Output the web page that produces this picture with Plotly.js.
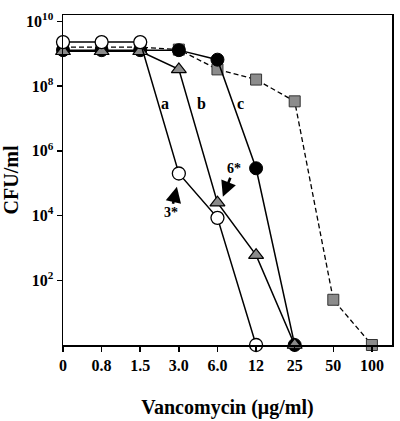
<!DOCTYPE html>
<html><head><meta charset="utf-8">
<script src="https://cdn.plot.ly/plotly-3.0.1.min.js"></script>
<style>html,body{margin:0;padding:0;background:#fff}#g{width:400px;height:421px}</style>
</head><body><div id="g"></div>
<script>
const categories = ["0","0.8","1.5","3.0","6.0","12","25","50","100"];
const seriesA = [2.3e9, 2.3e9, 2.3e9, 2.0e5, 8.5e3, 1];           // open circles
const seriesB = [1.2e9, 1.2e9, 1.2e9, 3.3e8, 2.5e4, 6.0e2, 1];     // grey triangles
const seriesC = [1.3e9, 1.3e9, 1.3e9, 1.3e9, 6.6e8, 2.9e5, 1];     // filled circles
const seriesD = [1.6e9, 1.6e9, 1.6e9, 1.35e9, 3.3e8, 1.6e8, 3.4e7, 25, 1]; // grey squares, dashed
const yTickVals = [1e2, 1e4, 1e6, 1e8, 1e10];
const yTickText = ["10<sup>2</sup>","10<sup>4</sup>","10<sup>6</sup>","10<sup>8</sup>","10<sup>10</sup>"];

const F = "Liberation Serif, Times New Roman, serif";
const traces = [
  {x: categories.slice(0, seriesD.length), y: seriesD, mode: "lines+markers", cliponaxis: false,
   line: {color: "#000", width: 1.3, dash: "5px,3px"},
   marker: {symbol: "square", size: 11, color: "#8c8c8c", line: {color: "#333", width: 1}}},
  {x: categories.slice(0, seriesC.length), y: seriesC, mode: "lines+markers", cliponaxis: false,
   line: {color: "#000", width: 1.5},
   marker: {symbol: "circle", size: 13, color: "#000", line: {color: "#000", width: 1}}},
  {x: categories.slice(0, seriesB.length), y: seriesB, mode: "lines+markers", cliponaxis: false,
   line: {color: "#000", width: 1.5},
   marker: {symbol: "triangle-up", size: 13, color: "#8a8a8a", line: {color: "#000", width: 1.2}}},
  {x: categories.slice(0, seriesA.length), y: seriesA, mode: "lines+markers", cliponaxis: false,
   line: {color: "#000", width: 1.5},
   marker: {symbol: "circle", size: 13, color: "#fff", line: {color: "#000", width: 1.3}}}
];

const layout = {
  width: 400, height: 421,
  margin: {l: 63, r: 8, t: 15, b: 76},
  paper_bgcolor: "#fff", plot_bgcolor: "#fff",
  showlegend: false,
  font: {family: F, color: "#000", size: 16, weight: "bold"},
  xaxis: {type: "category", categoryorder: "array", categoryarray: categories,
    range: [0, 8.52], showgrid: false, zeroline: false,
    showline: true, linecolor: "#000", linewidth: 1.5, mirror: true,
    ticks: "outside", ticklen: 5, tickwidth: 1.5, tickcolor: "#000",
    tickfont: {family: F, size: 16, weight: "bold"},
    title: {text: "Vancomycin (μg/ml)", font: {family: F, size: 20, weight: "bold"}, standoff: 27}},
  yaxis: {type: "log", range: [0, 10.2], showgrid: false, zeroline: false,
    showline: true, linecolor: "#000", linewidth: 1.5, mirror: true,
    tickvals: yTickVals, ticktext: yTickText,
    ticks: "outside", ticklen: 5, tickwidth: 1.5, tickcolor: "#000",
    tickfont: {family: F, size: 16, weight: "bold"},
    title: {text: "CFU/ml", font: {family: F, size: 20, weight: "bold"}, standoff: 4}},
  annotations: [
    {x: 2.64, y: 7.46, text: "a", showarrow: false, font: {family: F, size: 16, weight: "bold"}},
    {x: 3.58, y: 7.46, text: "b", showarrow: false, font: {family: F, size: 16, weight: "bold"}},
    {x: 4.59, y: 7.46, text: "c", showarrow: false, font: {family: F, size: 16, weight: "bold"}},
    {x: 2.95, y: 4.89, text: "3*", showarrow: true, ax: -6, ay: 26, arrowhead: 2, arrowsize: 1.2,
     arrowwidth: 2.6, arrowcolor: "#000", font: {family: F, size: 14, weight: "bold"}},
    {x: 4.14, y: 4.58, text: "6*", showarrow: true, ax: 11, ay: -28, arrowhead: 2, arrowsize: 1.2,
     arrowwidth: 2.6, arrowcolor: "#000", font: {family: F, size: 14, weight: "bold"}}
  ]
};
Plotly.newPlot("g", traces, layout, {staticPlot: true, displayModeBar: false});
</script></body></html>
